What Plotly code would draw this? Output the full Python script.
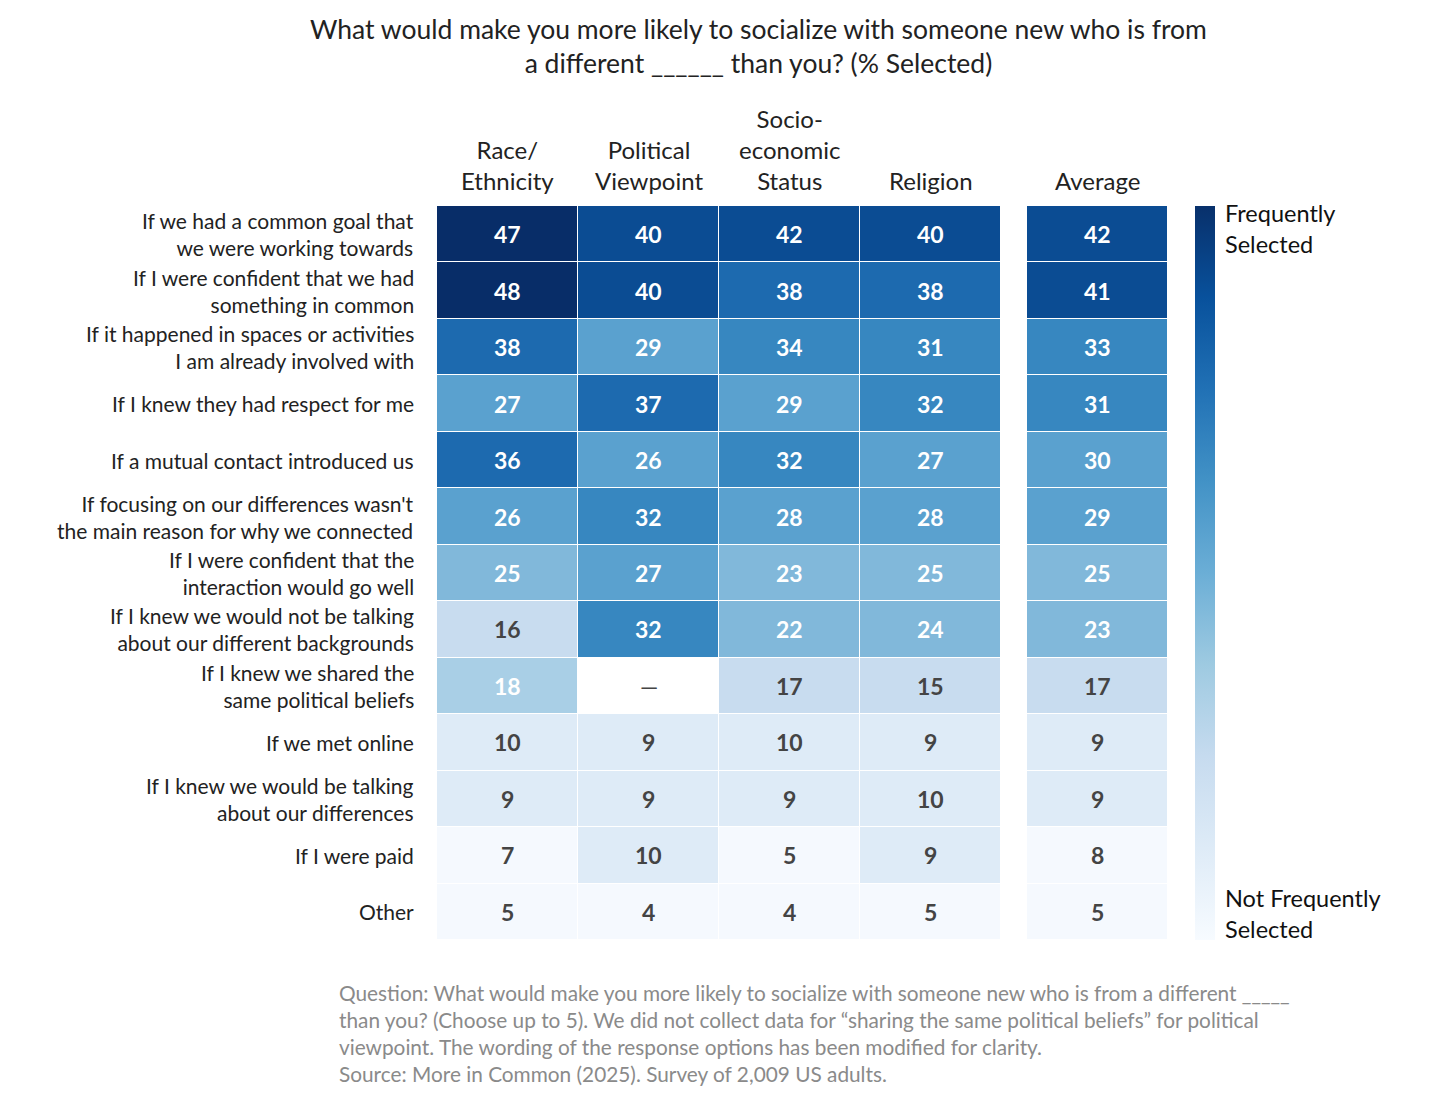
import plotly.graph_objects as go

rows = [
    "If we had a common goal that<br>we were working towards",
    "If I were confident that we had<br>something in common",
    "If it happened in spaces or activities<br>I am already involved with",
    "If I knew they had respect for me",
    "If a mutual contact introduced us",
    "If focusing on our differences wasn't<br>the main reason for why we connected",
    "If I were confident that the<br>interaction would go well",
    "If I knew we would not be talking<br>about our different backgrounds",
    "If I knew we shared the<br>same political beliefs",
    "If we met online",
    "If I knew we would be talking<br>about our differences",
    "If I were paid",
    "Other",
]
groups = ["Race/<br>Ethnicity", "Political<br>Viewpoint", "Socio-<br>economic<br>Status", "Religion"]
avg_label = ["Average"]

race =      [47, 48, 38, 27, 36, 26, 25, 16, 18, 10, 9, 7, 5]
political = [40, 40, 29, 37, 26, 32, 27, 32, None, 9, 9, 10, 4]
socio =     [42, 38, 34, 29, 32, 28, 23, 22, 17, 10, 9, 5, 4]
religion =  [40, 38, 31, 32, 27, 28, 25, 24, 15, 9, 10, 9, 5]
average =   [42, 41, 33, 31, 30, 29, 25, 23, 17, 9, 9, 8, 5]

title_text = ("What would make you more likely to socialize with someone new who is from<br>"
              "a different ______ than you? (% Selected)")
note_text = ("Question: What would make you more likely to socialize with someone new who is from a different _____<br>"
             "than you? (Choose up to 5). We did not collect data for “sharing the same political beliefs” for political<br>"
             "viewpoint. The wording of the response options has been modified for clarity.<br>"
             "Source: More in Common (2025). Survey of 2,009 US adults.")
legend_top = "Frequently<br>Selected"
legend_bottom = "Not Frequently<br>Selected"

# binned colour steps (upper bound of each bin, colour)
bin_edges = [8.5, 14.5, 17.5, 21.5, 25.5, 30.5, 34.5, 39.5, 44.5]
bin_colors = ["#f5f9fe", "#deebf7", "#c8dcef", "#a9cfe6", "#81b8da",
              "#5aa1cf", "#3787c0", "#1d6aaf", "#0b4c93", "#082d68"]
zmin, zmax = 0, 50

colorscale = []
lo = 0.0
for i, c in enumerate(bin_colors):
    hi = (bin_edges[i] - zmin) / (zmax - zmin) if i < len(bin_edges) else 1.0
    colorscale.append([lo, c])
    colorscale.append([hi, c])
    lo = hi

cols = [race, political, socio, religion]
z_main = [[cols[j][i] for j in range(4)] for i in range(len(rows))]
z_avg = [[average[i]] for i in range(len(rows))]

FONT = "Lato"
# body margin of the html page is 8px: compensate
OFF = 8
L, T, PW, PH = 437 - OFF, 206 - OFF, 731, 734
W, H = 1446, 1108

def px_x(px):
    return (px - OFF - L) / PW

def px_y(py):
    return (T + PH - (py - OFF)) / PH

fig = go.Figure()
fig.add_trace(go.Heatmap(z=z_main, x=groups, y=rows, colorscale=colorscale,
                         zmin=zmin, zmax=zmax, showscale=False, xgap=1, ygap=1,
                         hoverinfo="skip", xaxis="x", yaxis="y"))
fig.add_trace(go.Heatmap(z=z_avg, x=avg_label, y=rows, colorscale=colorscale,
                         zmin=zmin, zmax=zmax, showscale=False, xgap=1, ygap=1,
                         hoverinfo="skip", xaxis="x2", yaxis="y"))
# colorbar legend (invisible marker, only its colorbar is shown)
fig.add_trace(go.Scatter(x=[groups[0]], y=[rows[0]], mode="markers",
                         marker=dict(size=1, opacity=0, color=[0], cmin=0, cmax=1,
                                     colorscale="Blues", showscale=True,
                                     colorbar=dict(x=px_x(1195), xanchor="left", xpad=0, ypad=0,
                                                   y=0.5, yanchor="middle",
                                                   len=1, lenmode="fraction", thickness=20,
                                                   outlinewidth=0, showticklabels=False, ticks="")),
                         hoverinfo="skip", showlegend=False, xaxis="x", yaxis="y"))

annotations = []
NUM_SIZE = 23
for j, g in enumerate(groups):
    for i, r in enumerate(rows):
        v = cols[j][i]
        annotations.append(dict(x=g, y=r, xref="x", yref="y",
                                text="—" if v is None else f"<b>{v}</b>",
                                showarrow=False,
                                font=dict(family=FONT, size=NUM_SIZE,
                                          color="#444444" if (v is None or v < 18) else "white")))
for i, r in enumerate(rows):
    v = average[i]
    annotations.append(dict(x=avg_label[0], y=r, xref="x2", yref="y", text=f"<b>{v}</b>", showarrow=False,
                            font=dict(family=FONT, size=NUM_SIZE, color="#444444" if v < 18 else "white")))

# row labels
for r in rows:
    annotations.append(dict(x=px_x(416), y=r, xref="paper", yref="y", text=r, showarrow=False,
                            xanchor="right", yanchor="middle", align="right",
                            font=dict(family=FONT, size=21, color="#222222")))

# column headers
for g in groups:
    annotations.append(dict(x=g, y=px_y(197), xref="x", yref="paper", text=g, showarrow=False,
                            yanchor="bottom", font=dict(family=FONT, size=24, color="#222222")))
annotations.append(dict(x=avg_label[0], y=px_y(197), xref="x2", yref="paper", text=avg_label[0],
                        showarrow=False, yanchor="bottom",
                        font=dict(family=FONT, size=24, color="#222222")))

# title
annotations.append(dict(x=px_x(758), y=px_y(46), xref="paper", yref="paper", showarrow=False,
                        text=title_text, yanchor="middle", xanchor="center",
                        font=dict(family=FONT, size=26.5, color="#222222")))
# legend labels
annotations.append(dict(x=px_x(1223), y=px_y(228), xref="paper", yref="paper", showarrow=False,
                        text=legend_top, xanchor="left", yanchor="middle", align="left",
                        font=dict(family=FONT, size=23.5, color="#111111")))
annotations.append(dict(x=px_x(1223), y=px_y(913), xref="paper", yref="paper", showarrow=False,
                        text=legend_bottom, xanchor="left", yanchor="middle", align="left",
                        font=dict(family=FONT, size=23.5, color="#111111")))
# footnote
annotations.append(dict(x=px_x(337), y=px_y(1033), xref="paper", yref="paper", showarrow=False,
                        text=note_text, xanchor="left", yanchor="middle", align="left",
                        font=dict(family=FONT, size=20.8, color="#8a8a8a")))

main_end = px_x(1001)
avg_start = px_x(1027)
fig.update_layout(
    width=W, height=H,
    margin=dict(l=L, r=W - L - PW, t=T, b=H - T - PH, autoexpand=False),
    paper_bgcolor="white", plot_bgcolor="white",
    font=dict(family=FONT, color="#222222"),
    xaxis=dict(domain=[0, main_end], range=[-0.5, len(groups) - 0.5], showticklabels=False,
               showgrid=False, zeroline=False, showline=False, ticks=""),
    xaxis2=dict(domain=[avg_start, 1.0], anchor="y", range=[-0.5, 0.5], showticklabels=False,
                showgrid=False, zeroline=False, showline=False, ticks=""),
    yaxis=dict(range=[len(rows) - 0.5, -0.5], showgrid=False, zeroline=False, showline=False,
               ticks="", showticklabels=False),
    annotations=annotations,
    showlegend=False,
)

fig.write_html("out.html")
